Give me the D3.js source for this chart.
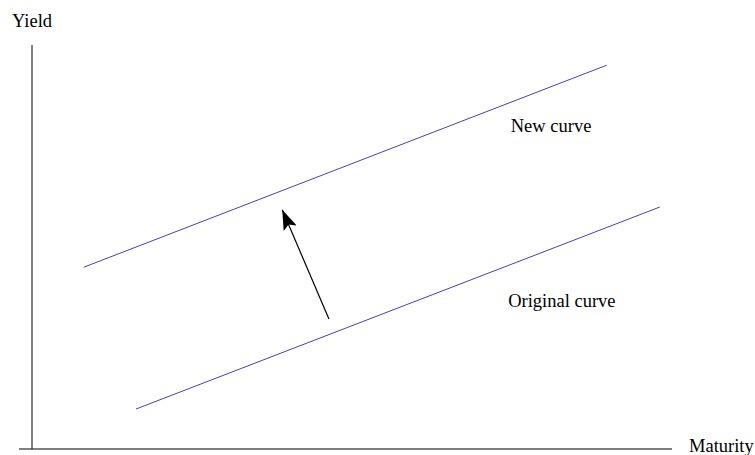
<!DOCTYPE html>
<html>
<head>
<meta charset="utf-8">
<script src="https://cdn.jsdelivr.net/npm/d3@7"></script>
<style>
  body { margin: 0; background: #fff; }
  text { font-family: "Liberation Serif", "DejaVu Serif", serif; }
</style>
</head>
<body>
<div id="chart"></div>
<script>
// curves in axis units (0..100 on both axes)
const curveNames = ["New curve", "Original curve"];
const newCurve = [[8.1, 45.0], [89.8, 95.0]];
const originalCurve = [[16.25, 9.9], [98.1, 59.9]];
const shiftArrow = [[46.4, 32.2], [39.1, 59.2]];
const curveLabels = [[74.8, 78.5], [74.4, 35.1]];

const width = 755, height = 455;

const x = d3.scaleLinear().domain([0, 100]).range([32, 672]);
const y = d3.scaleLinear().domain([0, 100]).range([449, 45]);

const svg = d3.select("#chart").append("svg")
    .attr("width", width)
    .attr("height", height);

svg.append("defs").append("marker")
    .attr("id", "head")
    .attr("viewBox", "0 0 20 14")
    .attr("refX", 20)
    .attr("refY", 7)
    .attr("markerUnits", "userSpaceOnUse")
    .attr("markerWidth", 20)
    .attr("markerHeight", 14)
    .attr("orient", "auto")
    .append("path")
    .attr("d", "M0,0 L20,7 L0,14 L4,7 Z")
    .attr("fill", "#000");

// axes
svg.append("line")
    .attr("x1", x(0)).attr("y1", y(0))
    .attr("x2", x(0)).attr("y2", y(100))
    .attr("stroke", "#000");
svg.append("line")
    .attr("x1", x(0) - 13).attr("y1", y(0))
    .attr("x2", x(100)).attr("y2", y(0))
    .attr("stroke", "#000");

svg.append("text")
    .attr("x", 12).attr("y", 27)
    .style("font-size", "18.5px")
    .text("Yield");
svg.append("text")
    .attr("x", x(100) + 17).attr("y", y(0) + 3)
    .style("font-size", "18.5px")
    .text("Maturity");

const line = d3.line().x(d => x(d[0])).y(d => y(d[1]));

svg.selectAll(".curve")
    .data([newCurve, originalCurve])
    .join("path")
    .attr("class", "curve")
    .attr("d", line)
    .attr("fill", "none")
    .attr("stroke", "#4b40a8")
    .attr("stroke-width", 1);

svg.append("path")
    .attr("d", line(shiftArrow))
    .attr("fill", "none")
    .attr("stroke", "#000")
    .attr("stroke-width", 1.2)
    .attr("marker-end", "url(#head)");

svg.selectAll(".curve-label")
    .data(curveNames)
    .join("text")
    .attr("class", "curve-label")
    .attr("x", (d, i) => x(curveLabels[i][0]))
    .attr("y", (d, i) => y(curveLabels[i][1]))
    .style("font-size", "18.5px")
    .text(d => d);
</script>
</body>
</html>
